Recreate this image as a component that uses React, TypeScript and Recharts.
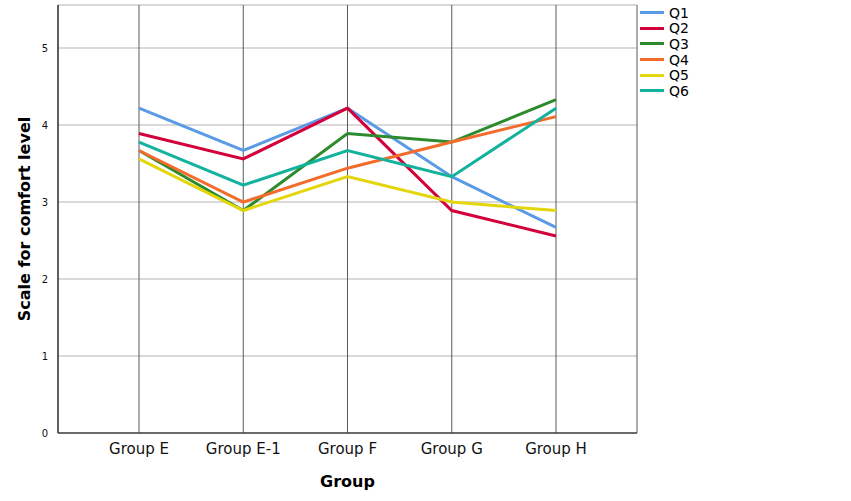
// Comfort-level profile per group, one line per question (Q1..Q6).

import {
  LineChart,
  Line,
  XAxis,
  YAxis,
  CartesianGrid,
  Legend,
} from "recharts";

const GROUPS = ["Group E", "Group E-1", "Group F", "Group G", "Group H"];

const Q1 = [4.22, 3.67, 4.22, 3.33, 2.67];
const Q2 = [3.89, 3.56, 4.22, 2.89, 2.56];
const Q3 = [3.67, 2.89, 3.89, 3.78, 4.33];
const Q4 = [3.67, 3.0, 3.44, 3.78, 4.11];
const Q5 = [3.56, 2.89, 3.33, 3.0, 2.89];
const Q6 = [3.78, 3.22, 3.67, 3.33, 4.22];

const Y_TICKS = [0, 1, 2, 3, 4, 5];

const SERIES = [
  { key: "Q1", values: Q1, color: "#5b9be6" },
  { key: "Q2", values: Q2, color: "#d3003b" },
  { key: "Q3", values: Q3, color: "#2d8a2d" },
  { key: "Q4", values: Q4, color: "#f36c2c" },
  { key: "Q5", values: Q5, color: "#e3d60c" },
  { key: "Q6", values: Q6, color: "#12b29d" },
];

const FONT = "'DejaVu Sans', sans-serif";

const data = GROUPS.map((g, i) => {
  const row: Record<string, string | number> = { group: g };
  SERIES.forEach((s) => (row[s.key] = s.values[i]));
  return row;
});

function LegendBox() {
  return (
    <div style={{ fontFamily: FONT, fontSize: 14, color: "#000" }}>
      {SERIES.map((s) => (
        <div
          key={s.key}
          style={{ display: "flex", alignItems: "center", height: 15.6 }}
        >
          <span
            style={{
              display: "inline-block",
              width: 24,
              height: 3,
              background: s.color,
              marginRight: 5,
            }}
          />
          {s.key}
        </div>
      ))}
    </div>
  );
}

export default function App() {
  return (
    <div
      style={{
        position: "fixed",
        left: 0,
        top: 0,
        width: 851,
        height: 501,
        background: "#fff",
      }}
    >
      <LineChart
        width={851}
        height={501}
        data={data}
        margin={{ top: 5, right: 154, left: 0, bottom: 0 }}
      >
        <CartesianGrid horizontal vertical={false} stroke="#cccccc" strokeWidth={1.5} />
        <CartesianGrid horizontal={false} vertical stroke="#5a5a5a" />
        <XAxis
          dataKey="group"
          padding={{ left: 81, right: 81 }}
          height={68}
          tickLine={false}
          axisLine={{ stroke: "#444", strokeWidth: 1.5 }}
          tick={{ fontFamily: FONT, fontSize: 15, fill: "#111" }}
          tickMargin={4}
          label={{
            value: "Group",
            position: "insideBottom",
            offset: 14,
            style: { fontFamily: FONT, fontSize: 16, fontWeight: "bold", fill: "#000" },
          }}
        />
        <XAxis
          xAxisId="top"
          dataKey="group"
          orientation="top"
          height={0}
          tick={false}
          tickLine={false}
          axisLine={{ stroke: "#555", strokeWidth: 1.5 }}
        />
        <YAxis
          type="number"
          domain={[0, 5.56]}
          ticks={Y_TICKS}
          width={58}
          tickLine={false}
          axisLine={{ stroke: "#444", strokeWidth: 1.5 }}
          tick={{ fontFamily: FONT, fontSize: 10, fill: "#111" }}
          tickMargin={4}
          label={{
            value: "Scale for comfort level",
            angle: -90,
            position: "insideLeft",
            offset: 24,
            style: {
              fontFamily: FONT,
              fontSize: 16,
              fontWeight: "bold",
              fill: "#000",
              textAnchor: "middle",
            },
          }}
        />
        <YAxis
          yAxisId="right"
          orientation="right"
          width={0}
          tick={false}
          tickLine={false}
          axisLine={{ stroke: "#888", strokeWidth: 1.5 }}
        />
        <Legend
          verticalAlign="top"
          align="right"
          layout="vertical"
          content={() => <LegendBox />}
          wrapperStyle={{ left: 640, top: 5, width: 60 }}
        />
        {SERIES.map((s) => (
          <Line
            key={s.key}
            dataKey={s.key}
            stroke={s.color}
            strokeWidth={3}
            dot={false}
            activeDot={false}
            type="linear"
            isAnimationActive={false}
          />
        ))}
      </LineChart>
    </div>
  );
}
